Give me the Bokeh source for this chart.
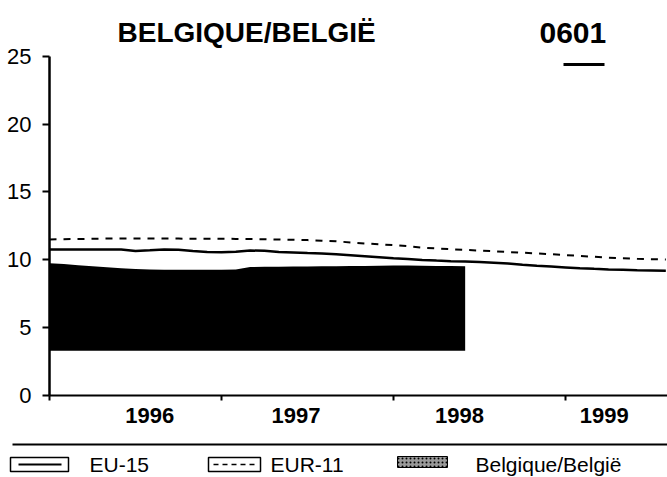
from bokeh.plotting import figure
from bokeh.models import Range1d, FixedTicker
from bokeh.core.properties import value
from bokeh.embed import file_html
from bokeh.resources import INLINE

# ---- data (monthly, month 0 = start of the axis) ----
months = list(range(44))
eu15 = [10.76, 10.76, 10.76, 10.76, 10.76, 10.76, 10.65, 10.70, 10.76, 10.74,
        10.65, 10.58, 10.55, 10.60, 10.68, 10.66, 10.58, 10.54, 10.50, 10.47,
        10.40, 10.33, 10.26, 10.19, 10.12, 10.06, 9.99, 9.94, 9.90, 9.87,
        9.84, 9.79, 9.72, 9.63, 9.56, 9.50, 9.44, 9.38, 9.33, 9.29,
        9.26, 9.23, 9.21, 9.19]
eur11 = [11.50, 11.52, 11.53, 11.55, 11.56, 11.57, 11.57, 11.57, 11.56, 11.56,
         11.55, 11.55, 11.55, 11.54, 11.53, 11.51, 11.49, 11.48, 11.45, 11.41,
         11.36, 11.28, 11.20, 11.14, 11.08, 11.00, 10.90, 10.83, 10.78, 10.73,
         10.68, 10.63, 10.57, 10.52, 10.47, 10.41, 10.35, 10.28, 10.22, 10.16,
         10.11, 10.07, 10.04, 10.02]
bel_months = list(range(30))
bel = [9.75, 9.68, 9.60, 9.52, 9.45, 9.38, 9.32, 9.28, 9.26, 9.26,
       9.26, 9.26, 9.27, 9.28, 9.47, 9.48, 9.49, 9.50, 9.51, 9.52,
       9.53, 9.54, 9.55, 9.56, 9.58, 9.57, 9.56, 9.55, 9.54, 9.53]
bel_base = [3.3] * len(bel_months)

year_labels = ["1996", "1997", "1998", "1999"]
year_label_pos = [7.0, 17.2, 28.6, 38.7]
year_ticks = [0, 12, 24, 36]
y_ticks = [0, 5, 10, 15, 20, 25]
x_end = 43.12

title_text = "BELGIQUE/BELGIË"
code_text = "0601"
legend_names = ["EU-15", "EUR-11", "Belgique/België"]

FONT = "Liberation Sans"
W, H = 667, 477

# layout: plot origin at page (49, 395); 14.333 px / month, 13.572 px / unit
PX_M = 172.0 / 12.0
PX_U = (395 - 55.7) / 25.0
x0 = -49 / PX_M
x1 = (W - 49) / PX_M
y0 = -(H - 395) / PX_U
y1 = 25 + 55.7 / PX_U

p = figure(width=W, height=H, output_backend="svg", toolbar_location=None,
           title=None, x_range=Range1d(x0, x1), y_range=Range1d(y0, y1),
           min_border=0)
p.extra_x_ranges = {"page": Range1d(0, W)}
p.extra_y_ranges = {"page": Range1d(H, 0)}
p.outline_line_color = None
p.xgrid.visible = False
p.ygrid.visible = False

# ---- data marks ----
p.varea(x=bel_months, y1=bel_base, y2=bel, fill_color="black")
p.line(months, eur11, line_color="black", line_width=2, line_dash="7 7")
p.line(months, eu15, line_color="black", line_width=2.5)

# ---- axes (library axes, pinned at the data origin) ----
ya = p.yaxis[0]
ya.fixed_location = 0
ya.bounds = (0, 25)
ya.ticker = FixedTicker(ticks=y_ticks)
ya.axis_line_width = 2.5
ya.axis_line_color = "black"
ya.major_tick_line_width = 2
ya.major_tick_line_color = "black"
ya.major_tick_out = 7
ya.major_tick_in = 0
ya.minor_tick_line_color = None
ya.major_label_text_font = FONT
ya.major_label_text_font_size = "22px"
ya.major_label_text_color = "black"
ya.major_label_standoff = 11

xa = p.xaxis[0]
xa.fixed_location = 0
xa.bounds = (0, x_end)
xa.ticker = FixedTicker(ticks=year_label_pos, minor_ticks=year_ticks)
xa.major_label_overrides = {pos: lab for pos, lab in zip(year_label_pos, year_labels)}
xa.axis_line_width = 2
xa.axis_line_color = "black"
xa.major_tick_out = 0
xa.major_tick_in = 0
xa.major_tick_line_color = None
xa.minor_tick_out = 5
xa.minor_tick_in = 0
xa.minor_tick_line_width = 2
xa.minor_tick_line_color = "black"
xa.major_label_text_font = FONT
xa.major_label_text_font_style = "bold"
xa.major_label_text_font_size = "22px"
xa.major_label_text_color = "black"
xa.major_label_standoff = 7

pg = dict(x_range_name="page", y_range_name="page")

# ---- titles ----
p.text(x=[117], y=[32], text=[title_text],
       text_font=value(FONT), text_font_style="bold",
       text_font_size="28px", text_baseline="middle", text_align="left",
       text_color="black", **pg)
p.text(x=[539], y=[32], text=[code_text],
       text_font=value(FONT), text_font_style="bold",
       text_font_size="30px", text_baseline="middle", text_align="left",
       text_color="black", **pg)
# short rule under the code
p.segment(x0=[563], y0=[64], x1=[604], y1=[64], line_color="black", line_width=3, **pg)

# ---- legend strip ----
p.segment(x0=[12], y0=[444], x1=[667], y1=[444], line_color="black", line_width=2, **pg)
p.quad(left=[10], right=[68], top=[457], bottom=[471], fill_color=None,
       line_color="black", line_width=1.5, **pg)
p.segment(x0=[18], y0=[464], x1=[61], y1=[464], line_color="black", line_width=2, **pg)
p.quad(left=[208], right=[260], top=[457], bottom=[471], fill_color=None,
       line_color="black", line_width=1.5, **pg)
p.segment(x0=[213], y0=[464], x1=[255], y1=[464], line_color="black",
          line_width=1.3, line_dash="5 4", **pg)
p.quad(left=[397], right=[447], top=[456], bottom=[467], fill_color="#9a9a9a",
       line_color="black", line_width=1, hatch_pattern="dot",
       hatch_color="black", hatch_scale=4, **pg)
p.text(x=[89, 270, 475], y=[464, 464, 464], text=legend_names,
       text_font=value(FONT), text_font_size="21px", text_baseline="middle",
       text_align="left", text_color="black", **pg)

open("out.html", "w").write(file_html(p, INLINE))
